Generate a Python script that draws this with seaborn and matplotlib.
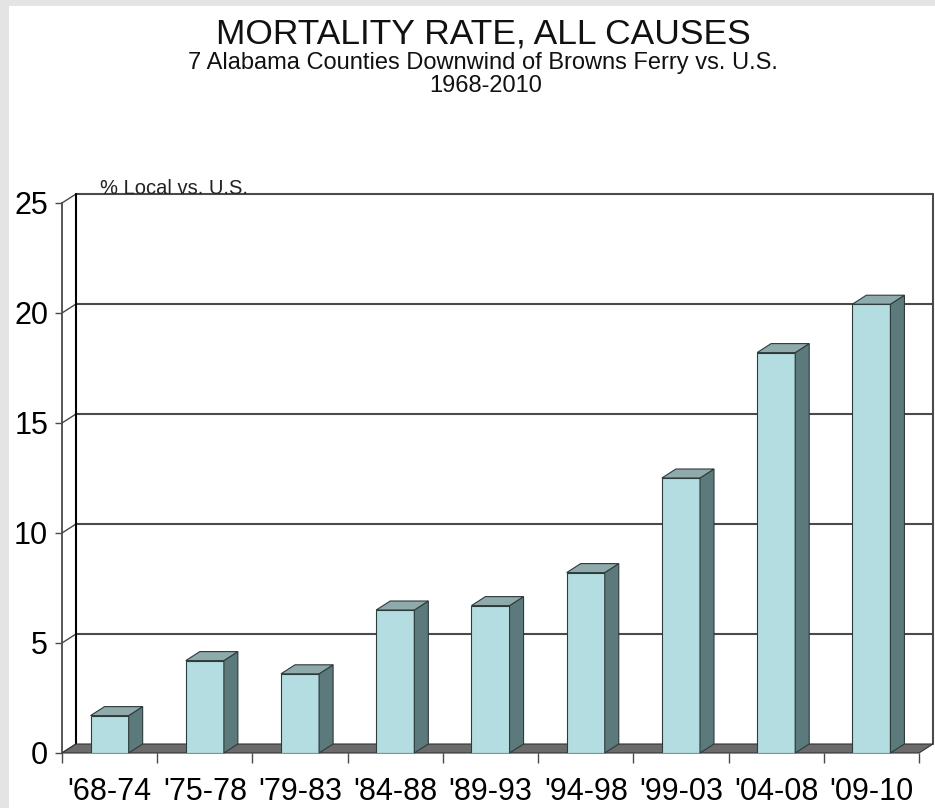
import numpy as np
import matplotlib
matplotlib.use("Agg")
import matplotlib.pyplot as plt
from matplotlib.patches import Polygon, Rectangle
import seaborn as sns

# Dados
periodos = ["'68-74", "'75-78", "'79-83", "'84-88", "'89-93",
            "'94-98", "'99-03", "'04-08", "'09-10"]
percentual = [1.7, 4.2, 3.6, 6.5, 6.7, 8.2, 12.5, 18.2, 20.4]
y_ticks = [0, 5, 10, 15, 20, 25]

titulo = "MORTALITY RATE, ALL CAUSES"
subtitulo = "7 Alabama Counties Downwind of Browns Ferry vs. U.S."
anos = "1968-2010"
rotulo_y = "% Local vs. U.S."

# Cores
cor_frente = "#b3dde1"
cor_lado = "#5c7a7b"
cor_topo = "#8eaaab"
cor_borda = "#2e3b3b"
cor_piso = "#6b6b6b"
cor_grade = "#4a4a4a"

sns.set_theme(style="white")
plt.rcParams['font.family'] = ['Liberation Sans', 'DejaVu Sans']

fig = plt.figure(figsize=(9.35, 8.08), dpi=100)
ax = fig.add_axes([62 / 935, 55 / 808, 857 / 935, 550 / 808])

# profundidade do efeito 3D (em unidades de dados)
dx = 14 / 95.2
dy = 9 / 22.0
n = len(periodos)
x0, x1 = -0.5, n - 0.5
ymax = 25

# parede de fundo: linhas de grade
for t in y_ticks[1:]:
    ax.plot([x0 + dx, x1 + dx], [t + dy, t + dy], color=cor_grade, lw=1.5,
            clip_on=False, zorder=1)
for t in y_ticks:
    ax.plot([x0, x0 + dx], [t, t + dy], color=cor_grade, lw=1.0,
            clip_on=False, zorder=1)
ax.plot([x0 + dx, x0 + dx], [dy, ymax + dy], color="black", lw=1.5,
        clip_on=False, zorder=1)
ax.plot([x1 + dx, x1 + dx], [dy, ymax + dy], color=cor_grade, lw=1.5,
        clip_on=False, zorder=1)

# piso
piso = Polygon([[x0, 0], [x1, 0], [x1 + dx, dy], [x0 + dx, dy]],
               closed=True, facecolor=cor_piso, edgecolor="#333333",
               lw=0.8, clip_on=False, zorder=2)
ax.add_patch(piso)

# barras (face frontal)
sns.barplot(x=periodos, y=percentual, color=cor_frente, width=0.4,
            edgecolor=cor_borda, linewidth=0.8, saturation=1, ax=ax, zorder=3)

# lados e topos das barras
for p in ax.patches:
    if not isinstance(p, Rectangle):
        continue
    bx = p.get_x()
    bw = p.get_width()
    bh = p.get_height()
    lado = Polygon([[bx + bw, 0], [bx + bw + dx, dy],
                    [bx + bw + dx, bh + dy], [bx + bw, bh]],
                   closed=True, facecolor=cor_lado, edgecolor=cor_borda,
                   lw=0.8, clip_on=False, zorder=3)
    topo = Polygon([[bx, bh], [bx + bw, bh], [bx + bw + dx, bh + dy],
                    [bx + dx, bh + dy]],
                   closed=True, facecolor=cor_topo, edgecolor=cor_borda,
                   lw=0.8, clip_on=False, zorder=3)
    ax.add_patch(lado)
    ax.add_patch(topo)

ax.set_xlim(x0, x1)
ax.set_ylim(0, ymax)
ax.set_yticks(y_ticks)
ax.set_yticklabels([str(t) for t in y_ticks], fontsize=22)
ax.set_xticks(range(n))
ax.set_xticklabels(periodos, fontsize=22)
ax.set_xticks(np.arange(n + 1) - 0.5, minor=True)
ax.tick_params(axis="x", which="major", length=0, pad=17, colors="black")
ax.tick_params(axis="x", which="minor", length=7, width=1, color=cor_grade,
               direction="out", bottom=True)
ax.tick_params(axis="y", length=5, width=1, color=cor_grade, pad=5,
               left=True, colors="black")
ax.set_xlabel("")
ax.set_ylabel("")

for s in ["top", "right", "bottom"]:
    ax.spines[s].set_visible(False)
ax.spines["left"].set_color(cor_grade)
ax.spines["left"].set_linewidth(1.3)
ax.patch.set_alpha(0)

# títulos
fig.text(483 / 935, 1 - 43 / 808, titulo, ha="center", va="baseline",
         fontsize=25.5, color="#111111")
fig.text(483 / 935, 1 - 69 / 808, subtitulo, ha="center", va="baseline",
         fontsize=17, color="#111111")
fig.text(486 / 935, 1 - 92 / 808, anos, ha="center", va="baseline",
         fontsize=17, color="#111111")
fig.text(100 / 935, 1 - 189 / 808, rotulo_y, ha="left", va="center",
         fontsize=14.5, color="#222222")

# moldura cinza da captura
fig.patches.append(Rectangle((0, 0), 9 / 935, 1, transform=fig.transFigure,
                             facecolor="#e4e4e4", edgecolor="none", zorder=0))
fig.patches.append(Rectangle((0, 1 - 6 / 808), 1, 6 / 808,
                             transform=fig.transFigure,
                             facecolor="#e4e4e4", edgecolor="none", zorder=0))

fig.savefig("out.png", dpi=100)
